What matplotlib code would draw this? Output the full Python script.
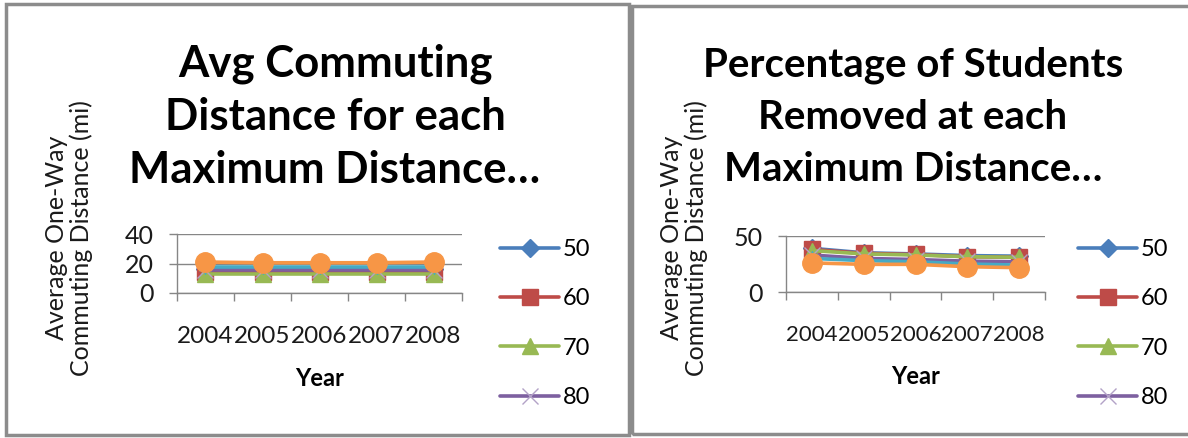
"""Two Excel-style line charts: commuting distance and students removed per max distance."""

import matplotlib
matplotlib.use("Agg")
import matplotlib.pyplot as plt
from matplotlib.patches import Rectangle

plt.rcParams["font.family"] = ["Lato", "DejaVu Sans"]

years = ["2004", "2005", "2006", "2007", "2008"]
series_names = ["50", "60", "70", "80", "90", "100"]

# Avg commuting distance (mi)
dist_50 = [16.5, 16.5, 16.5, 16.5, 16.5]
dist_60 = [14.5, 14.5, 14.5, 14.5, 14.5]
dist_70 = [13, 13, 13, 13, 13]
dist_80 = [15.5, 15.5, 15.5, 15.5, 15.5]
dist_90 = [17.5, 17.5, 17.5, 17.5, 17.5]
dist_100 = [21, 20.5, 20.5, 20.5, 21]

# Percentage of students removed
pct_50 = [39, 35, 34, 32.5, 32]
pct_60 = [38, 34.5, 33.5, 31.5, 31]
pct_70 = [37, 34, 33, 31.5, 31]
pct_80 = [33, 30, 29, 27.5, 27]
pct_90 = [30, 28, 27, 25, 24]
pct_100 = [26, 24.7, 24.7, 22.6, 21.7]

colors = ["#4A7EBB", "#BE4B48", "#98B954", "#7D60A0", "#46AAC5", "#F79646"]
markers = ["D", "s", "^", "x", (6, 2, 0), "o"]
msizes = [9, 11, 11, 11, 10, 14]

W, H = 1188, 438


def setup_frame(fig, x0, y0, x1, y1):
    rect = Rectangle((x0 / W, 1 - y1 / H), (x1 - x0) / W, (y1 - y0) / H,
                     transform=fig.transFigure, fill=False,
                     edgecolor="#8C8C8C", linewidth=2.5)
    fig.add_artist(rect)


def draw_chart(fig, rect, data, ymax, yticks, xlabelsize):
    ax = fig.add_axes(rect)
    x = list(range(len(years)))
    handles = []
    for i, vals in enumerate(data):
        h, = ax.plot(x, vals, color=colors[i], linewidth=2.6,
                     marker=markers[i], markersize=msizes[i],
                     markerfacecolor=colors[i], markeredgecolor=colors[i],
                     markeredgewidth=1.0, solid_capstyle="round",
                     label=series_names[i], clip_on=False)
        if markers[i] == "x":
            h.set_markeredgecolor("#B3A2C7")
        handles.append(h)

    ax.set_xlim(-0.5, len(years) - 0.5)
    ax.set_ylim(0, ymax)
    ax.set_yticks(yticks)
    ax.set_yticklabels([str(t) for t in yticks])
    ax.yaxis.grid(True, color="#868686", linewidth=1.0)
    ax.set_axisbelow(True)

    ax.set_xticks([i - 0.5 for i in range(len(years) + 1)])
    ax.set_xticklabels([])
    ax.set_xticks(x, minor=True)
    ax.set_xticklabels(years, minor=True)
    ax.tick_params(axis="x", which="major", direction="out", length=6,
                   color="#868686", width=1.0)
    ax.tick_params(axis="x", which="minor", length=0, pad=24,
                   labelsize=xlabelsize, labelcolor="#1a1a1a")
    ax.tick_params(axis="y", direction="out", length=6, color="#868686",
                   width=1.0, pad=11, labelsize=18, labelcolor="#1a1a1a")

    for side in ["top", "right"]:
        ax.spines[side].set_visible(False)
    for side in ["left", "bottom"]:
        ax.spines[side].set_color("#868686")
        ax.spines[side].set_linewidth(1.0)

    ax.set_xlabel("Year", fontsize=17, fontweight="bold", labelpad=14)
    return ax, handles


fig = plt.figure(figsize=(11.88, 4.38), dpi=100)

setup_frame(fig, 6, 4, 629, 435)
setup_frame(fig, 632, 6, 1200, 434)

ax1, h1 = draw_chart(
    fig,
    [177 / W, 1 - 293 / H, 285 / W, 59 / H],
    [dist_50, dist_60, dist_70, dist_80, dist_90, dist_100],
    40, [0, 20, 40], 17.5,
)
ax2, h2 = draw_chart(
    fig,
    [786 / W, 1 - 292 / H, 259 / W, 56 / H],
    [pct_50, pct_60, pct_70, pct_80, pct_90, pct_100],
    50, [0, 50], 16,
)

# Titles
fig.text(335 / W, 1 - 117 / H, "Avg Commuting\nDistance for each\nMaximum Distance…",
         ha="center", va="center", fontsize=31.5, fontweight="bold",
         linespacing=1.4)
fig.text(913 / W, 1 - 117 / H, "Percentage of Students\nRemoved at each\nMaximum Distance…",
         ha="center", va="center", fontsize=29, fontweight="bold",
         linespacing=1.5)

# Y axis labels
ylab = "Average One-Way\nCommuting Distance (mi)"
fig.text(69 / W, 1 - 238 / H, ylab, rotation=90, ha="center", va="center",
         fontsize=18, linespacing=1.1, color="#1a1a1a")
fig.text(684 / W, 1 - 238 / H, ylab, rotation=90, ha="center", va="center",
         fontsize=18, linespacing=1.1, color="#1a1a1a")

# Legends (only first four entries visible)
for ax, handles, lx in [(ax1, h1, 500), (ax2, h2, 1078)]:
    fig.legend(handles=handles[:4], labels=series_names[:4],
               loc="upper left", bbox_to_anchor=(lx / W, 1 - 239 / H),
               frameon=False, fontsize=17, handlelength=2.5,
               handletextpad=0.15, labelspacing=1.2, borderaxespad=0,
               borderpad=0)

fig.savefig("out.png", dpi=100)
